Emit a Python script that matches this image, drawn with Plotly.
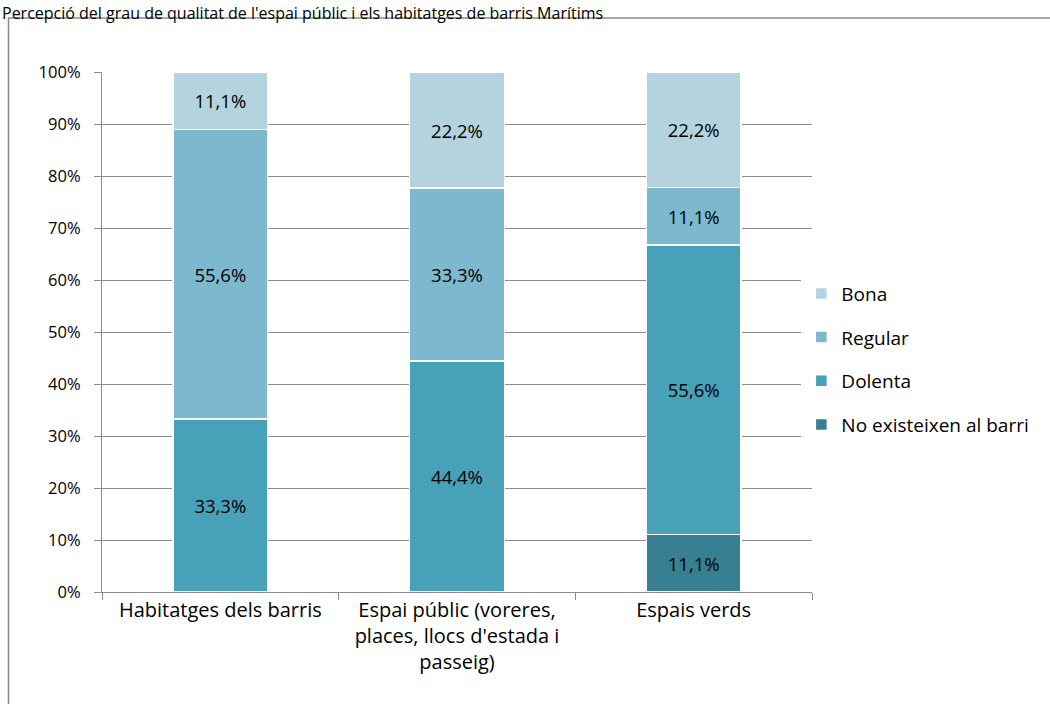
import plotly.graph_objects as go

categories = ["Habitatges dels barris",
              "Espai públic (voreres,<br>places, llocs d'estada i<br>passeig)",
              "Espais verds"]
series_names = ["No existeixen al barri", "Dolenta", "Regular", "Bona"]
no_existeixen = [0, 0, 11.1]
dolenta = [33.3, 44.4, 55.6]
regular = [55.6, 33.3, 11.1]
bona = [11.1, 22.2, 22.2]
colors = ["#377f91", "#47a1b8", "#7cb8ce", "#b4d3df"]
y_ticks = [0, 10, 20, 30, 40, 50, 60, 70, 80, 90, 100]
title = "Percepció del grau de qualitat de l'espai públic i els habitatges de barris Marítims"

FONT = "'Open Sans', Lato, sans-serif"

def fmt(v):
    return ("%.1f%%" % v).replace(".", ",") if v > 0 else ""

fig = go.Figure()
for i, (name, vals) in enumerate(zip(series_names, [no_existeixen, dolenta, regular, bona])):
    fig.add_trace(go.Bar(
        x=categories, y=vals, name=name, legendgroup=name,
        legendrank=4 - i,
        marker=dict(color=colors[i], line=dict(color="white", width=1.5)),
        text=[fmt(v) for v in vals], textposition="inside",
        insidetextanchor="middle",
        textfont=dict(size=18.5, color="black", family=FONT),
        width=0.4,
    ))

# outer frame and title at the very top
fig.add_shape(type="rect", xref="paper", yref="paper",
              x0=-0.1317, x1=1.6, y0=-0.5, y1=1.1038,
              line=dict(color="#8a8a8a", width=1.5), fillcolor="rgba(0,0,0,0)")
fig.add_annotation(text=title, xref="paper", yref="paper", x=-0.1437, y=1.1385,
                   xanchor="left", yanchor="top", showarrow=False,
                   font=dict(size=16, color="black", family=FONT))

fig.update_layout(
    barmode="stack", width=1050, height=704,
    paper_bgcolor="white", plot_bgcolor="white",
    margin=dict(l=102, r=238, t=72, b=112),
    font=dict(family=FONT, size=17, color="black"),
    showlegend=True,
    legend=dict(x=0.985, y=0.448, xanchor="left", yanchor="middle",
                traceorder="grouped", tracegroupgap=16,
                font=dict(size=19, color="black", family=FONT)),
)
fig.update_yaxes(range=[0, 100], tickvals=y_ticks,
                 ticktext=["%d%%" % v for v in y_ticks],
                 showgrid=True, gridcolor="#8c8c8c", gridwidth=1.3,
                 showline=True, linecolor="#8c8c8c", linewidth=1.3,
                 ticks="outside", ticklen=7, tickcolor="#8c8c8c",
                 ticklabelstandoff=10,
                 zeroline=False, tickfont=dict(size=16.5))
fig.update_xaxes(showline=True, linecolor="#8c8c8c", linewidth=1.3,
                 ticks="outside", ticklen=7, tickcolor="#8c8c8c",
                 tickson="boundaries", tickfont=dict(size=20))

fig.write_html("out.html", config={"displayModeBar": False},
               post_script="document.body.style.margin='0';")
